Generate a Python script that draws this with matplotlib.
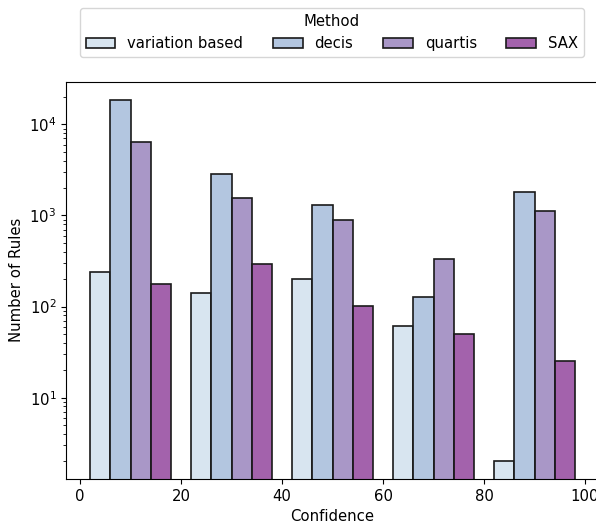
import numpy as np
import matplotlib
matplotlib.use("Agg")
import matplotlib.pyplot as plt
from matplotlib.colors import to_rgba
from matplotlib.patches import Patch

# confidence bins (%) and rule counts per method
bin_edges = [0, 20, 40, 60, 80, 100]
methods = ["variation based", "decis", "quartis", "SAX"]
variation_based = [240, 140, 201, 61, 2]
decis = [18600, 2850, 1300, 128, 1820]
quartis = [6350, 1570, 890, 336, 1125]
sax = [177, 292, 101, 50, 25]
counts = [variation_based, decis, quartis, sax]

plt.rcParams["font.size"] = 10.7

cmap = plt.get_cmap("BuPu")
colors = [to_rgba(cmap(p), 0.75) for p in (0.2, 0.4, 0.6, 0.8)]
edge = (0.1, 0.1, 0.1, 1.0)

fig = plt.figure(figsize=(5.96, 5.24), dpi=100)
ax = fig.add_axes([0.1107, 0.0859, 0.8946, 0.7582])

edges = np.array(bin_edges, dtype=float)
bw = np.diff(edges)
shrink = 0.8
w = bw * shrink / len(methods)
for i, (name, vals) in enumerate(zip(methods, counts)):
    left = edges[:-1] + bw * (1 - shrink) / 2 + i * w
    ax.bar(left, vals, width=w, align="edge", facecolor=colors[i],
           edgecolor=edge, linewidth=1.2, label=name)

ax.set_yscale("log")
ax.set_ylim(1.28, 29400)
ax.set_xlim(-2.8, 102.8)
ax.set_xticks(bin_edges)
ax.set_xlabel("Confidence")
ax.set_ylabel("Number of Rules")

handles = [Patch(facecolor=c, edgecolor=edge, linewidth=1.2) for c in colors]
fig.legend(handles, methods, title="Method", ncol=4, loc="lower center",
           bbox_to_anchor=(0.557, 0.8906), borderaxespad=0)

fig.savefig("out.png", dpi=100)
